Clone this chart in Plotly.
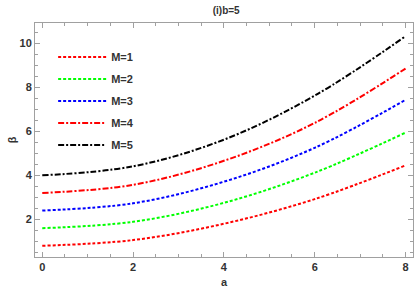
import plotly.graph_objects as go

a_vals = [0, 2, 4, 6, 8]
beta_M1 = [0.80, 1.06, 1.80, 2.92, 4.45]
beta_M2 = [1.60, 1.89, 2.75, 4.12, 5.94]
beta_M3 = [2.40, 2.73, 3.71, 5.25, 7.43]
beta_M4 = [3.20, 3.57, 4.66, 6.38, 8.85]
beta_M5 = [4.00, 4.41, 5.62, 7.62, 10.32]
names = ["M=1", "M=2", "M=3", "M=4", "M=5"]
series = [beta_M1, beta_M2, beta_M3, beta_M4, beta_M5]
colors = ["#ff0000", "#00ff00", "#0000ff", "#ff0000", "#000000"]
dashes = ["3px,2px", "3px,2px", "3px,2px", "6px,2px,2px,2px", "6px,2px,2px,2px"]

fig = go.Figure()
for n, s, c, d in zip(names, series, colors, dashes):
    fig.add_trace(go.Scatter(x=a_vals, y=s, mode="lines", name=n, legendgroup=n,
                             line=dict(color=c, width=2, dash=d, shape="spline")))

font_family = "Liberation Sans, Arial, sans-serif"
axis_common = dict(showgrid=False, zeroline=False, showline=True, linecolor="#a0a0a0",
                   linewidth=1, mirror="ticks", ticks="inside", ticklen=5, tickcolor="#a0a0a0",
                   automargin=False,
                   tickfont=dict(family=font_family, size=11, color="#333333", weight="bold"))

fig.update_layout(
    width=415, height=288,
    margin=dict(l=35, r=2, t=23, b=31),
    paper_bgcolor="white", plot_bgcolor="white",
    title=dict(text="(i)b=5", x=0.545, xanchor="center", y=0.965, yanchor="middle",
               font=dict(family=font_family, size=10, color="#333333", weight="bold")),
    xaxis=dict(range=[-0.16, 8.165], tickvals=[0, 2, 4, 6, 8], ticklabelstandoff=0,
               minor=dict(dtick=0.5, tick0=0, ticks="inside", ticklen=3, tickcolor="#a0a0a0"),
               title=dict(text="a", standoff=6,
                          font=dict(family=font_family, size=11, color="#333333", weight="bold")),
               **axis_common),
    yaxis=dict(range=[0.29, 10.92], tickvals=[2, 4, 6, 8, 10],
               minor=dict(dtick=0.5, tick0=0, ticks="inside", ticklen=3, tickcolor="#a0a0a0"),
               title=dict(text="β", standoff=0,
                          font=dict(family=font_family, size=11, color="#333333", weight="bold")),
               **axis_common),
    legend=dict(x=0.048, y=0.917, xanchor="left", yanchor="top", bgcolor="rgba(0,0,0,0)",
                traceorder="grouped", tracegroupgap=3, itemwidth=48,
                font=dict(family=font_family, size=11, color="#333333", weight="bold")),
)

fig.write_html("out.html", config={"displayModeBar": False},
               post_script="document.body.style.margin='0';document.body.style.padding='0';")
